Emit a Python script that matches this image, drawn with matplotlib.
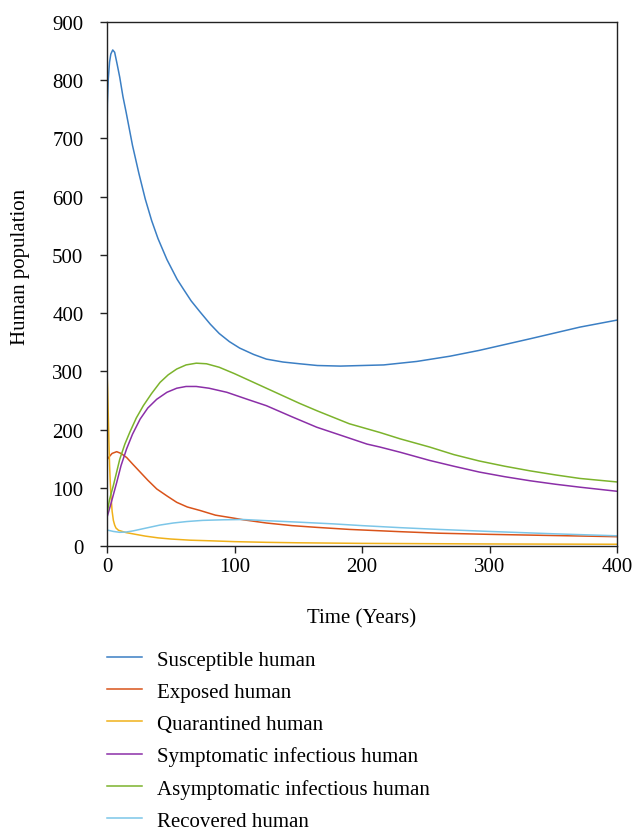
import numpy as np
import matplotlib
matplotlib.use("Agg")
import matplotlib.pyplot as plt

plt.rcParams['font.family'] = ['Liberation Serif', 'DejaVu Serif']

# values (time in years, population)
t_s = [0, 0.3, 1, 2, 3, 4.5, 6, 8, 10, 12.5, 15, 20, 25, 30, 35, 40, 47, 55, 60, 66, 73, 81,
       88, 96, 104, 115, 125, 138, 151, 165, 183, 200, 217, 243, 269, 292, 332, 371, 400]
susceptible = [700, 760, 802, 831, 845, 852, 848, 827, 805, 772, 745, 688, 640, 596, 559, 528,
               492, 458, 441, 421, 402, 381, 365, 351, 340, 329, 321, 316, 313, 310, 309, 310,
               311, 317, 326, 336, 356, 376, 388]

t_e = [0, 2, 4, 7.6, 11, 15.4, 20, 26, 32, 39, 47, 54.7, 63, 73, 85, 99, 107, 125, 145,
       164.5, 190, 230, 260, 300, 350, 400]
exposed = [148, 154, 159, 162, 159, 152, 141, 127, 113, 98, 86, 75, 67, 61, 53, 48, 45, 39.5,
           35, 32, 28.5, 24.6, 22, 20, 18, 16]

t_q = [0, 0.5, 1, 1.5, 2, 2.5, 3, 4, 5, 6, 7, 9, 12, 15, 20, 30, 40, 50, 65, 80, 100, 125,
       150, 200, 250, 300, 400]
quarantined = [300, 270, 225, 180, 140, 112, 90, 60, 44, 36, 31, 27, 25, 23, 21, 17, 14, 12,
               10, 9, 7.5, 6.3, 5.5, 4.5, 4, 3.5, 3]

t_i = [0, 3, 7.6, 11, 15.4, 20, 26, 32, 39, 47, 54.7, 62, 70, 80, 94, 110, 125, 145, 164.5,
       185, 204, 214, 230, 253, 272, 292, 312, 332, 352, 371, 400]
symptomatic = [49, 72, 109, 138, 167, 192, 218, 237, 252, 264, 271, 274, 274, 271, 264, 252,
               241, 222, 204, 189, 175, 170, 161, 147, 137, 127, 119, 112, 106, 101, 94]

t_a = [0, 2, 5, 10, 14, 18, 23, 28.5, 35, 41.6, 48, 54.7, 62, 70, 78, 88, 100, 112, 125, 138,
       151, 165, 190, 214, 230, 253, 272, 292, 312, 332, 352, 371, 400]
asymptomatic = [55, 80, 104, 149, 175, 196, 220, 241, 262, 281, 294, 304, 311, 314, 313, 307,
                296, 284, 271, 258, 245, 232, 210, 195, 184, 170, 157, 146, 137, 129, 122, 116,
                110]

t_r = [0, 5, 10, 15, 20.6, 30, 41.6, 52, 62.5, 75, 91, 107, 125, 150, 177.5, 200, 230, 260,
       300, 350, 400]
recovered = [27.5, 25, 23.5, 24, 26, 30.5, 36, 39.5, 42, 44, 45, 45.5, 43.5, 41, 38, 35, 31.5,
             28.5, 25, 21, 17.5]

labels = ["Susceptible human", "Exposed human", "Quarantined human",
          "Symptomatic infectious human", "Asymptomatic infectious human", "Recovered human"]
colors = ["#3b7fc4", "#d9531a", "#f0b11a", "#8b2fa8", "#7cb32c", "#7cc6e8"]

fig = plt.figure(figsize=(6.34, 8.37), dpi=100)
ax = fig.add_axes([107 / 634, 1 - 547 / 837, 510 / 634, 524 / 837])

series = [(t_s, susceptible), (t_e, exposed), (t_q, quarantined),
          (t_i, symptomatic), (t_a, asymptomatic), (t_r, recovered)]
for (tt, yy), lab, c in zip(series, labels, colors):
    ax.plot(tt, yy, color=c, lw=1.1, label=lab)

ax.set_xlim(0, 400)
ax.set_ylim(0, 900)
ax.set_xticks([0, 100, 200, 300, 400])
ax.set_yticks(np.arange(0, 901, 100))
ax.tick_params(direction='out', length=5, width=1.0, labelsize=15, pad=12, color='#222222')
ax.tick_params(axis='x', pad=3)
for sp in ax.spines.values():
    sp.set_linewidth(1.0)
    sp.set_color('#222222')

fig.text(21 / 634, 1 - 267 / 837, "Human population", rotation=90, ha='center', va='center',
         fontsize=15)
fig.text(362 / 634, 1 - 619 / 837, "Time (Years)", ha='center', va='center', fontsize=15)

fig.legend(loc='upper left', bbox_to_anchor=(107 / 634, 1 - 651 / 837), frameon=False,
           fontsize=15, handlelength=1.7, handletextpad=0.7, labelspacing=0.6,
           borderpad=0, borderaxespad=0)

fig.savefig("out.png", dpi=100)
